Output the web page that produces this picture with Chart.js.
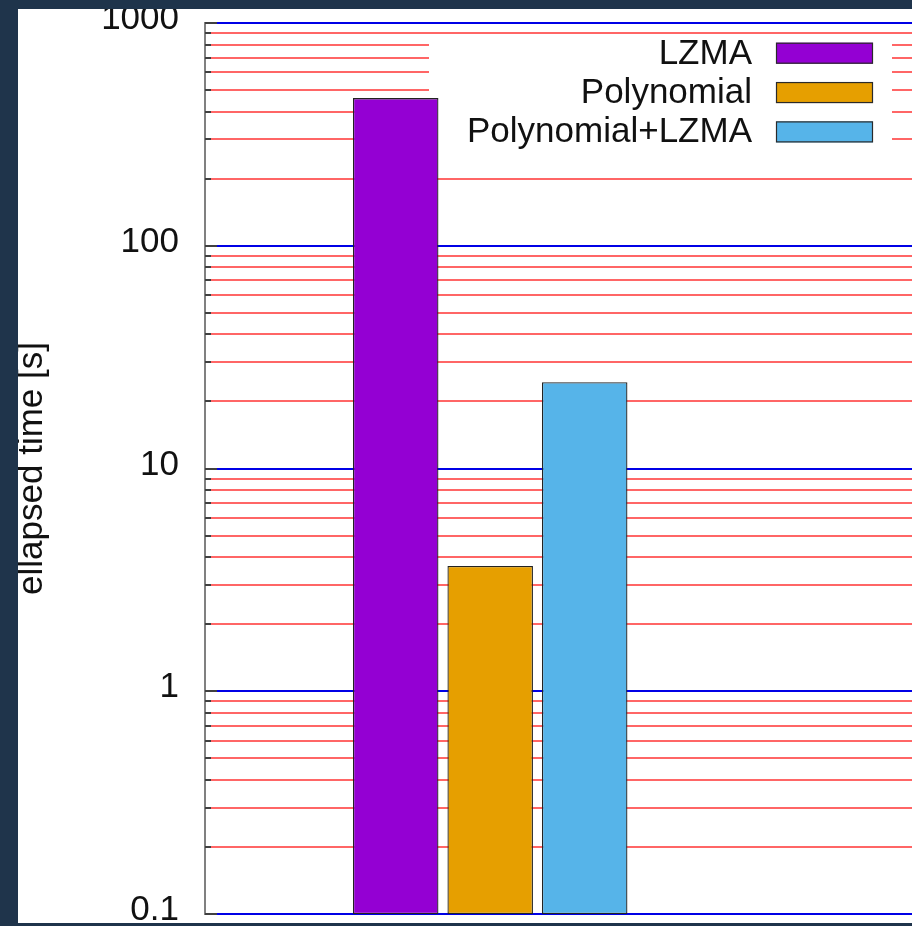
<!DOCTYPE html>
<html>
<head>
<meta charset="utf-8">
<title>Elapsed time by compression method</title>
<script src="https://cdn.jsdelivr.net/npm/chart.js@4.4.1/dist/chart.umd.min.js"></script>
<style>
  html, body { margin: 0; padding: 0; width: 912px; height: 926px; overflow: hidden; background: #1f344b; }
  #chart { position: absolute; left: 18px; top: 9px; background: #ffffff; }
</style>
</head>
<body>
<canvas id="chart" width="900" height="914"></canvas>
<script>
// Methods compared and their measured elapsed time in seconds
const methods = ['LZMA', 'Polynomial', 'Polynomial+LZMA'];
const elapsedSeconds = [460, 3.65, 24.4];
const methodColors = ['#9400d3', '#e69f00', '#56b4e9'];

// Y axis: labelled decades, with minor lines at 2..9 times each decade
const decadeTicks = [0.1, 1, 10, 100, 1000];
const minorMultipliers = [2, 3, 4, 5, 6, 7, 8, 9];

const FONT = '"Liberation Sans", Arial, Helvetica, sans-serif';
Chart.defaults.font.family = FONT;
Chart.defaults.color = '#111111';

function isDecade(v) {
  const l = Math.log10(v);
  return Math.abs(l - Math.round(l)) < 1e-9;
}

// short inward tick marks along the left axis
const axisTickMarks = {
  id: 'axisTickMarks',
  beforeDatasetsDraw(chart) {
    const y = chart.scales.y;
    const left = chart.chartArea.left;
    const ctx = chart.ctx;
    ctx.save();
    ctx.strokeStyle = '#404040';
    ctx.lineWidth = 2;
    y.ticks.forEach((t) => {
      const py = Math.round(y.getPixelForValue(t.value));
      const len = isDecade(t.value) ? 12 : 6;
      ctx.beginPath();
      ctx.moveTo(left, py);
      ctx.lineTo(left + len, py);
      ctx.stroke();
    });
    ctx.restore();
  }
};

// key in the top right corner: label text, then a colour box.
// Drawn before the bars so a tall bar may overlap its white background.
const keyBox = {
  id: 'keyBox',
  beforeDatasetsDraw(chart) {
    const ctx = chart.ctx;
    const sets = chart.data.datasets;
    ctx.save();
    ctx.fillStyle = '#ffffff';
    ctx.fillRect(411, 29, 463, 112);
    ctx.font = '35px ' + FONT;
    ctx.textAlign = 'right';
    ctx.textBaseline = 'alphabetic';
    sets.forEach((ds, i) => {
      const rowTop = 33.7 + i * 39.35;
      ctx.fillStyle = '#111111';
      ctx.fillText(ds.label, 734, rowTop + 20.8);
      ctx.fillStyle = ds.backgroundColor;
      ctx.fillRect(758, rowTop, 97, 21);
      ctx.strokeStyle = '#2a2a2a';
      ctx.lineWidth = 1.2;
      ctx.strokeRect(758.5, rowTop + 0.5, 96, 20);
    });
    ctx.restore();
  }
};

const datasets = methods.map((name, i) => ({
  label: name,
  data: [{ x: 0, y: elapsedSeconds[i] }],
  backgroundColor: methodColors[i],
  borderColor: '#222222',
  borderWidth: 1.3,
  borderSkipped: false,
  categoryPercentage: 0.3976,
  barPercentage: 0.905
}));

new Chart(document.getElementById('chart'), {
  type: 'bar',
  data: { datasets },
  plugins: [axisTickMarks, keyBox],
  options: {
    responsive: false,
    animation: false,
    events: [],
    layout: { padding: { top: 14, bottom: 9, left: 0, right: 0 } },
    plugins: { legend: { display: false }, tooltip: { enabled: false } },
    scales: {
      x: {
        type: 'linear',
        min: -1,
        max: 1.5,
        offset: false,
        display: false,
        afterBuildTicks(scale) { scale.ticks = [{ value: 0 }]; }
      },
      y: {
        type: 'logarithmic',
        min: decadeTicks[0],
        max: decadeTicks[decadeTicks.length - 1],
        afterBuildTicks(scale) {
          const ticks = [];
          decadeTicks.forEach((d, i) => {
            ticks.push({ value: d, major: true });
            if (i < decadeTicks.length - 1) {
              minorMultipliers.forEach((m) => ticks.push({ value: +(d * m).toPrecision(6), major: false }));
            }
          });
          scale.ticks = ticks;
        },
        afterFit(scale) {
          scale.width = 187;
          scale.paddingTop = 0;
          scale.paddingBottom = 0;
        },
        border: { display: true, color: '#808080', width: 2 },
        grid: {
          drawTicks: false,
          color: (ctx) => (ctx.tick && isDecade(ctx.tick.value)) ? '#0000e6' : 'rgba(255,30,30,0.68)',
          lineWidth: 2
        },
        ticks: {
          autoSkip: false,
          padding: 26,
          labelOffset: -3.5,
          color: '#111111',
          font: { size: 35 },
          callback: (value) => isDecade(value) ? String(value) : ''
        },
        title: {
          display: true,
          text: 'ellapsed time [s]',
          color: '#111111',
          font: { size: 35, lineHeight: 0.8 },
          padding: 0
        }
      }
    }
  }
});
</script>
</body>
</html>
